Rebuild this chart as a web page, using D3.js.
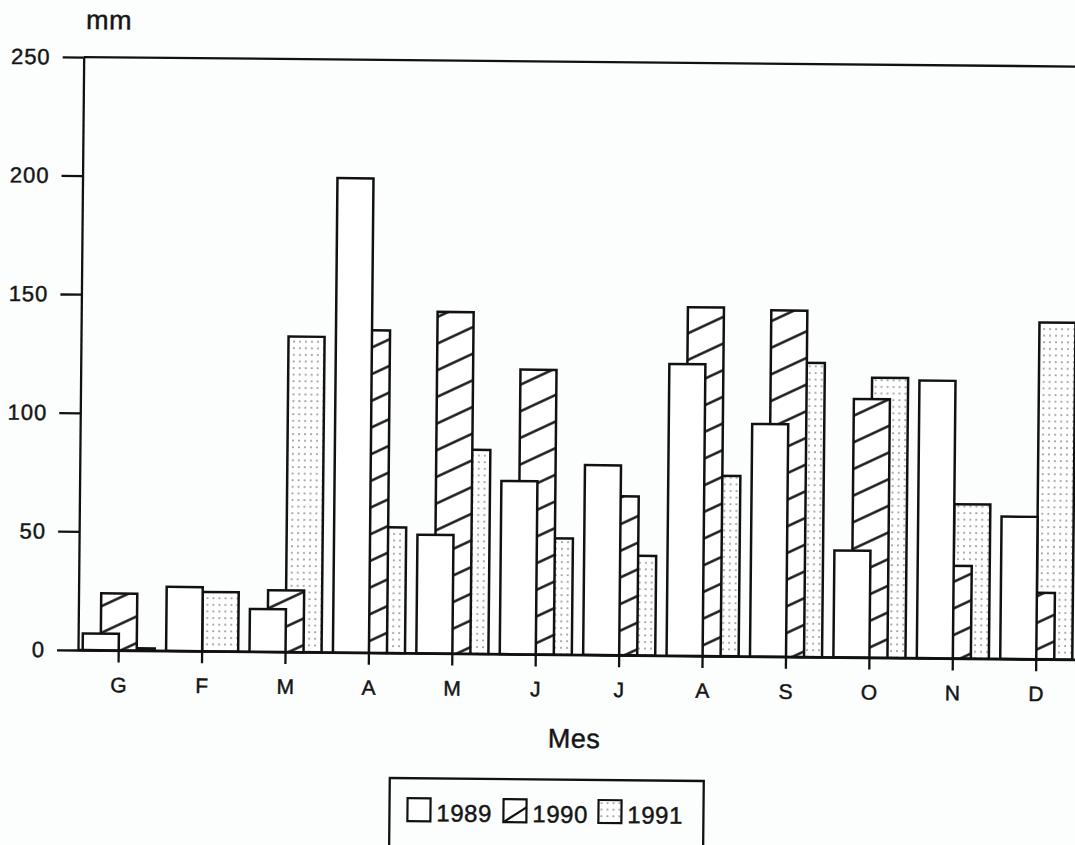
<!DOCTYPE html>
<html>
<head>
<meta charset="utf-8">
<script src="https://cdn.jsdelivr.net/npm/d3@7/dist/d3.min.js"></script>
<style>
  html, body { margin: 0; padding: 0; background: #fcfdfd; }
  svg { display: block; }
  text { font-family: "Liberation Sans", Arial, sans-serif; fill: #151515; stroke: #151515; stroke-width: 0.45px; }
</style>
</head>
<body>
<script>
// ---- data ----
const months = ["G", "F", "M", "A", "M", "J", "J", "A", "S", "O", "N", "D"];
const years = ["1989", "1990", "1991"];
const v1989 = [7, 27, 18, 200, 50, 73, 80, 123, 98, 45, 117, 60];
const v1990 = [24, 0, 26, 136, 144, 120, 67, 147, 146, 109, 39, 28];
const v1991 = [1, 25, 133, 53, 86, 49, 42, 76, 124, 118, 65, 142];
const yTicks = [0, 50, 100, 150, 200, 250];
const yUnit = "mm";
const xTitle = "Mes";

// ---- layout ----
const W = 1075, H = 845;
const svg = d3.select("body").append("svg").attr("width", W).attr("height", H);

const defs = svg.append("defs");
const hatch = defs.append("pattern")
  .attr("id", "hatch").attr("patternUnits", "userSpaceOnUse")
  .attr("width", 40).attr("height", 24.1)
  .attr("patternTransform", "rotate(-25.5)");
hatch.append("rect").attr("width", 40).attr("height", 24.1).attr("fill", "#fff");
hatch.append("line").attr("x1", 0).attr("x2", 40).attr("y1", 12).attr("y2", 12)
  .attr("stroke", "#111").attr("stroke-width", 2.3);

const dots = defs.append("pattern")
  .attr("id", "dots").attr("patternUnits", "userSpaceOnUse")
  .attr("width", 6).attr("height", 6.6);
dots.append("rect").attr("width", 6).attr("height", 6.6).attr("fill", "#fff");
dots.append("circle").attr("cx", 3).attr("cy", 3).attr("r", 1).attr("fill", "#9a9a9a");

// whole scanned page is slightly rotated
const g = svg.append("g").attr("transform", "rotate(0.55, 78, 650)");

const x = d3.scaleBand().domain(d3.range(months.length)).range([77, 1078]);
const y = d3.scaleLinear().domain([0, 250]).range([650, 57]);
const barW = x.bandwidth() * 0.432;

// top frame line
g.append("line")
  .attr("x1", 78).attr("x2", 1110)
  .attr("y1", y(250)).attr("y2", y(250))
  .attr("stroke", "#111").attr("stroke-width", 2.3);
// baseline extension
g.append("line")
  .attr("x1", 78).attr("x2", 1110)
  .attr("y1", y(0)).attr("y2", y(0))
  .attr("stroke", "#111").attr("stroke-width", 2.3);

// bars: drawn back to front (1991, 1990, 1989)
const series = [
  { key: "1991", values: v1991, offset: 0, fill: "url(#dots)" },
  { key: "1990", values: v1990, offset: -0.5, fill: "url(#hatch)" },
  { key: "1989", values: v1989, offset: -1, fill: "#fff" }
];
series.forEach(s => {
  g.append("g").attr("class", "bars-" + s.key)
    .selectAll("rect")
    .data(s.values.map((v, i) => ({ v, i })).filter(d => d.v > 0))
    .join("rect")
    .attr("x", d => x(d.i) + x.bandwidth() / 2 + s.offset * barW)
    .attr("width", barW)
    .attr("y", d => y(d.v))
    .attr("height", d => y(0) - y(d.v))
    .attr("fill", s.fill)
    .attr("stroke", "#111")
    .attr("stroke-width", 2.5);
});

// y axis
const yAxis = g.append("g").attr("transform", "translate(78,0)")
  .call(d3.axisLeft(y).tickValues(yTicks).tickSize(21).tickPadding(12).tickSizeOuter(0));
yAxis.selectAll("path, line").attr("stroke", "#111").attr("stroke-width", 2.3);
yAxis.selectAll("text").attr("font-size", 22).attr("letter-spacing", 1)
  .style("font-family", "'Liberation Sans', Arial, sans-serif").attr("fill", "#151515");

// x axis
const xAxis = g.append("g").attr("transform", `translate(0,${y(0)})`)
  .call(d3.axisBottom(x).tickFormat(i => months[i]).tickSize(12).tickPadding(15).tickSizeOuter(0));
xAxis.selectAll("path, line").attr("stroke", "#111").attr("stroke-width", 2.3);
xAxis.selectAll("text").attr("font-size", 21)
  .style("font-family", "'Liberation Sans', Arial, sans-serif").attr("fill", "#151515");

// axis titles
g.append("text").attr("x", 80).attr("y", 29).attr("font-size", 27).attr("letter-spacing", 0.5).text(yUnit);
g.append("text").attr("x", 575).attr("y", 743).attr("text-anchor", "middle")
  .attr("font-size", 27).attr("letter-spacing", 0.5).text(xTitle);

// legend
const lg = g.append("g").attr("transform", "translate(391,775)");
lg.append("rect").attr("x", 0).attr("y", 0).attr("width", 314).attr("height", 120)
  .attr("fill", "#fcfdfd").attr("stroke", "#111").attr("stroke-width", 2.3);
const legendFill = { "1989": "#fff", "1990": "#fff", "1991": "url(#dots)" };
const legendX = [18, 114, 209];
years.forEach((yr, k) => {
  const it = lg.append("g").attr("transform", `translate(${legendX[k]},20)`);
  it.append("rect").attr("width", 23).attr("height", 23)
    .attr("fill", legendFill[yr]).attr("stroke", "#111").attr("stroke-width", 2.2);
  if (yr === "1990") {
    it.append("line").attr("x1", 0).attr("y1", 23).attr("x2", 23).attr("y2", 8)
      .attr("stroke", "#111").attr("stroke-width", 2.2);
  }
  it.append("text").attr("x", 29).attr("y", 23).attr("font-size", 24)
    .attr("letter-spacing", 0.5).text(yr);
});
</script>
</body>
</html>
